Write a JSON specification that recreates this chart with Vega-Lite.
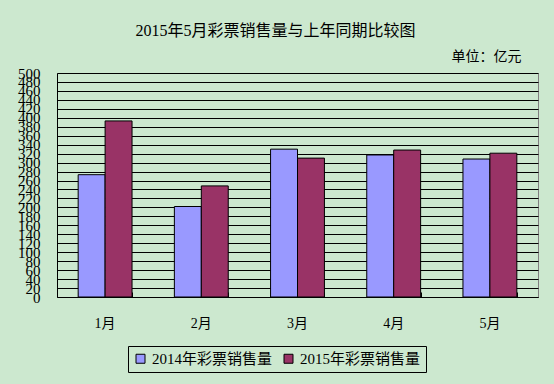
{
  "$schema": "https://vega.github.io/schema/vega-lite/v6.json",
  "autosize": {"type": "none"},
  "width": 481,
  "height": 224,
  "padding": {"left": 57, "top": 73, "right": 16, "bottom": 87},
  "background": "#CCE8CF",
  "title": {
    "text": "2015年5月彩票销售量与上年同期比较图",
    "font": "Liberation Serif, Noto Sans CJK SC",
    "fontSize": 16,
    "fontWeight": "normal",
    "color": "#000000",
    "anchor": "middle",
    "frame": "group",
    "dx": -22,
    "offset": 10
  },
  "data": {
    "values": [
      {"month": "1月", "series": "2014年彩票销售量", "value": 273},
      {"month": "1月", "series": "2015年彩票销售量", "value": 393},
      {"month": "2月", "series": "2014年彩票销售量", "value": 202},
      {"month": "2月", "series": "2015年彩票销售量", "value": 248},
      {"month": "3月", "series": "2014年彩票销售量", "value": 330},
      {"month": "3月", "series": "2015年彩票销售量", "value": 310},
      {"month": "4月", "series": "2014年彩票销售量", "value": 317},
      {"month": "4月", "series": "2015年彩票销售量", "value": 328},
      {"month": "5月", "series": "2014年彩票销售量", "value": 308},
      {"month": "5月", "series": "2015年彩票销售量", "value": 321}
    ]
  },
  "encoding": {
    "xOffset": {
      "field": "series",
      "type": "nominal",
      "scale": {"paddingInner": 0, "paddingOuter": 0}
    },
    "y": {
      "field": "value",
      "type": "quantitative",
      "scale": {"domain": [0, 500], "nice": false},
      "axis": {
        "title": "单位：亿元",
        "titleAngle": 0,
        "titleX": 429,
        "titleY": -13,
        "titleAlign": "center",
        "titleBaseline": "alphabetic",
        "titleFont": "Liberation Serif, Noto Sans CJK SC",
        "titleFontSize": 14,
        "titleFontWeight": "normal",
        "titleColor": "#000000",
        "values": [0,20,40,60,80,100,120,140,160,180,200,220,240,260,280,300,320,340,360,380,400,420,440,460,480,500],
        "labelOverlap": false,
        "labelFont": "Liberation Serif",
        "labelFontSize": 15,
        "labelColor": "#000000",
        "labelPadding": 17,
        "ticks": false,
        "tickSize": 0,
        "domainColor": "#000000",
        "grid": true,
        "gridColor": "#000000",
        "gridOpacity": 1,
        "gridWidth": 1
      }
    },
    "color": {
      "field": "series",
      "type": "nominal",
      "scale": {"domain": ["2014年彩票销售量", "2015年彩票销售量"], "range": ["#9999FF", "#993366"]},
      "legend": {
        "title": null,
        "orient": "none",
        "legendX": 71,
        "legendY": 273,
        "direction": "horizontal",
        "strokeColor": "#000000",
        "padding": 5,
        "symbolType": "square",
        "symbolSize": 81,
        "symbolStrokeColor": "#000000",
        "symbolStrokeWidth": 1,
        "symbolOpacity": 1,
        "labelFont": "Liberation Serif, Noto Sans CJK SC",
        "labelFontSize": 15,
        "labelColor": "#000000",
        "labelOffset": 4,
        "columnPadding": 8,
        "labelLimit": 300
      }
    }
  },
  "layer": [
    {
      "mark": {"type": "bar", "opacity": 0},
      "encoding": {
        "x": {
          "field": "month",
          "type": "nominal",
          "sort": ["1月", "2月", "3月", "4月", "5月"],
          "scale": {"paddingInner": 0.44, "paddingOuter": 0.22},
          "axis": {
            "orient": "top",
            "offset": -224,
            "title": null,
            "labels": false,
            "domain": false,
            "ticks": true,
            "tickColor": "#000000",
            "tickWidth": 1,
            "tickBand": "extent",
            "tickSize": 5
          }
        }
      }
    },
    {
      "mark": {"type": "bar", "stroke": "#000000", "strokeWidth": 1},
      "encoding": {
        "x": {
          "field": "month",
          "type": "nominal",
          "sort": ["1月", "2月", "3月", "4月", "5月"],
          "scale": {"paddingInner": 0.44, "paddingOuter": 0.22},
          "axis": {
            "orient": "bottom",
            "title": null,
            "labelAngle": 0,
            "labelFont": "Liberation Serif, Noto Sans CJK SC",
            "labelFontSize": 14,
            "labelColor": "#000000",
            "labelBaseline": "top",
            "labelPadding": 19,
            "domainColor": "#000000",
            "ticks": false,
            "tickSize": 0
          }
        }
      }
    }
  ],
  "resolve": {"axis": {"x": "independent"}},
  "config": {
    "view": {"stroke": "#808080", "fill": null},
    "axis": {"gridColor": "#000000"}
  }
}
